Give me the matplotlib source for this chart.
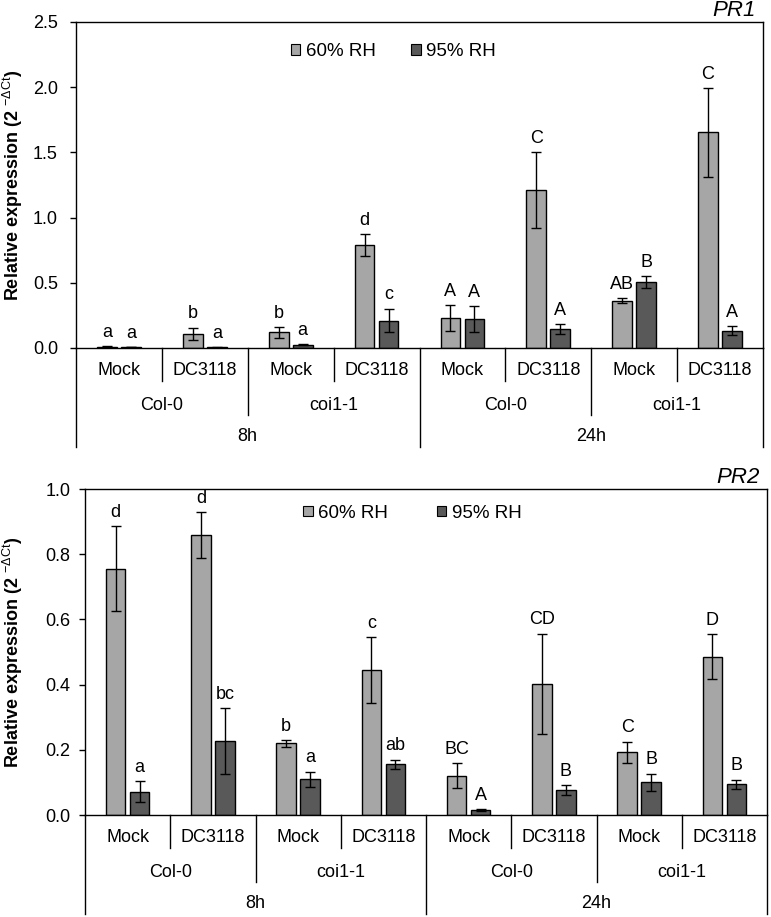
# Relatieve expressie van PR1 en PR2 bij 60% en 95% RH.
import numpy as np
import matplotlib.pyplot as plt
import matplotlib.transforms as mtransforms
from matplotlib.patches import Patch

plt.rcParams['font.family'] = ['Liberation Sans', 'DejaVu Sans']
plt.rcParams['mathtext.fontset'] = 'custom'
plt.rcParams['mathtext.rm'] = 'Liberation Sans'
plt.rcParams['mathtext.bf'] = 'Liberation Sans:bold'
plt.rcParams['mathtext.it'] = 'Liberation Sans:italic'

# Categorieen (van links naar rechts)
behandeling = ['Mock', 'DC3118'] * 4
genotype = ['Col-0', 'coi1-1', 'Col-0', 'coi1-1']
tijd = ['8h', '24h']
reeksen = ['60% RH', '95% RH']

# PR1
pr1_60 = [0.01, 0.11, 0.12, 0.79, 0.23, 1.21, 0.363, 1.654]
pr1_60_err = [0.003, 0.045, 0.04, 0.085, 0.10, 0.29, 0.02, 0.34]
pr1_95 = [0.005, 0.005, 0.025, 0.21, 0.22, 0.146, 0.504, 0.133]
pr1_95_err = [0.001, 0.002, 0.005, 0.09, 0.10, 0.038, 0.045, 0.035]
pr1_let_60 = ['a', 'b', 'b', 'd', 'A', 'C', 'AB', 'C']
pr1_let_95 = ['a', 'a', 'a', 'c', 'A', 'A', 'B', 'A']

# PR2
pr2_60 = [0.755, 0.858, 0.22, 0.445, 0.12, 0.403, 0.193, 0.486]
pr2_60_err = [0.13, 0.07, 0.01, 0.10, 0.038, 0.153, 0.032, 0.069]
pr2_95 = [0.071, 0.227, 0.11, 0.155, 0.015, 0.076, 0.10, 0.094]
pr2_95_err = [0.032, 0.10, 0.023, 0.015, 0.003, 0.015, 0.027, 0.014]
pr2_let_60 = ['d', 'd', 'b', 'c', 'BC', 'CD', 'C', 'D']
pr2_let_95 = ['a', 'bc', 'a', 'ab', 'A', 'B', 'B', 'B']

kleur_60 = '#a6a6a6'
kleur_95 = '#595959'

W, H = 771, 917
fig = plt.figure(figsize=(W / 100, H / 100), dpi=100)


def paneel(links, onder, breed, w60, e60, w95, e95, l60, l95, ymax, stap, titel, leg_pos, colsp, tpad):
    ax = fig.add_axes([links / W, 1 - onder / H, breed / W, 326 / H])
    x = np.arange(len(behandeling))
    ax.bar(x - 0.14, w60, 0.23, color=kleur_60, edgecolor='black', linewidth=1, zorder=2)
    ax.bar(x + 0.14, w95, 0.23, color=kleur_95, edgecolor='black', linewidth=1, zorder=2)
    ax.errorbar(x - 0.14, w60, yerr=e60, fmt='none', ecolor='black', elinewidth=1, capsize=3.5, zorder=3)
    ax.errorbar(x + 0.14, w95, yerr=e95, fmt='none', ecolor='black', elinewidth=1, capsize=3.5, zorder=3)
    for i in range(len(x)):
        ax.annotate(l60[i], (x[i] - 0.14, w60[i] + e60[i]), xytext=(0, 10), textcoords='offset points',
                    ha='center', va='center', fontsize=13)
        ax.annotate(l95[i], (x[i] + 0.14, w95[i] + e95[i]), xytext=(0, 10), textcoords='offset points',
                    ha='center', va='center', fontsize=13)

    ax.set_xlim(-0.5, 7.5)
    ax.set_ylim(0, ymax)
    ticks = np.arange(0, ymax + 1e-9, stap)
    ax.set_yticks(ticks)
    ax.set_yticklabels(['%.1f' % v for v in ticks])
    ax.set_xticks([])
    ax.tick_params(axis='y', direction='out', length=4, width=1, pad=tpad, labelsize=13)
    for s in ax.spines.values():
        s.set_linewidth(1)
    ax.set_ylabel(r'Relative expression (2 $^{-\Delta\mathrm{Ct}}$)', fontsize=13, fontweight='bold')
    ax.yaxis.set_label_coords((25 - links) / breed, 0.5)
    ax.text(0.99, 1.003, titel, transform=ax.transAxes, ha='right', va='bottom',
            fontsize=16, style='italic')

    handles = [Patch(facecolor=kleur_60, edgecolor='black', linewidth=0.8),
               Patch(facecolor=kleur_95, edgecolor='black', linewidth=0.8)]
    ax.legend(handles, reeksen, loc='center', bbox_to_anchor=leg_pos, ncol=2, frameon=False,
              fontsize=13.5, handlelength=0.5, handleheight=0.5, handletextpad=0.3,
              columnspacing=colsp)

    # Meerlaagse x-as
    tr = mtransforms.blended_transform_factory(ax.transData, ax.transAxes)
    kw = dict(transform=tr, clip_on=False, color='black', lw=1)
    for i, lab in enumerate(behandeling):
        ax.text(x[i], -0.068, lab, transform=tr, ha='center', va='center', fontsize=13)
    for xs in [0.5, 2.5, 4.5, 6.5]:
        ax.plot([xs, xs], [0, -0.10], **kw)
    for i, lab in enumerate(genotype):
        ax.text(2 * i + 0.5, -0.175, lab, transform=tr, ha='center', va='center', fontsize=13)
    for xs in [1.5, 5.5]:
        ax.plot([xs, xs], [0, -0.207], **kw)
    for i, lab in enumerate(tijd):
        ax.text(4 * i + 1.5, -0.273, lab, transform=tr, ha='center', va='center', fontsize=13)
    for xs in [-0.5, 3.5, 7.5]:
        ax.plot([xs, xs], [0, -0.305], **kw)
    return ax


paneel(76, 348, 687, pr1_60, pr1_60_err, pr1_95, pr1_95_err,
       pr1_let_60, pr1_let_95, 2.5, 0.5, 'PR1', (0.462, 0.908), 1.9, 9)
paneel(85, 815, 682, pr2_60, pr2_60_err, pr2_95, pr2_95_err,
       pr2_let_60, pr2_let_95, 1.0, 0.2, 'PR2', (0.48, 0.926), 2.6, 6.5)

fig.savefig('out.png', dpi=100)
